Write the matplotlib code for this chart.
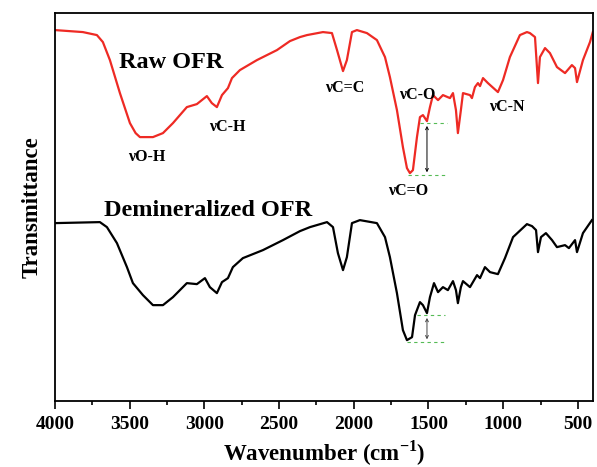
import matplotlib
matplotlib.use('Agg')
import matplotlib.pyplot as plt
from matplotlib.ticker import MultipleLocator

plt.rcParams['font.family'] = ['Liberation Serif', 'DejaVu Serif']
plt.rcParams['mathtext.fontset'] = 'custom'
plt.rcParams['mathtext.rm'] = 'Liberation Serif'
plt.rcParams['mathtext.bf'] = 'Liberation Serif:bold'

# Raw OFR spectrum (wavenumber, transmittance in arbitrary units)
raw_wn = [4000, 3813, 3719, 3679, 3632, 3565, 3498, 3460, 3431, 3344, 3277, 3210, 3117, 3050,
          2983, 2950, 2916, 2882, 2842, 2815, 2762, 2648, 2514, 2427, 2360, 2313, 2206,
          2146, 2112, 2072, 2046, 2012, 1979, 1912, 1845, 1791, 1758, 1711, 1671, 1644,
          1624, 1604, 1577, 1557, 1537, 1510, 1490, 1470, 1436, 1403, 1356, 1336, 1316,
          1303, 1283, 1269, 1222, 1209, 1189, 1169, 1155, 1135, 1102, 1035, 1001, 955,
          888, 841, 821, 787, 767, 754, 720, 687, 640, 586, 540, 519, 506, 466, 419, 400]
raw_t = [371, 369, 366, 359, 341, 308, 278, 268, 264, 264, 268, 278, 294, 297,
         305, 298, 294, 306, 313, 323, 331, 341, 351, 360, 364, 366, 369,
         368, 351, 330, 341, 369, 371, 368, 361, 344, 324, 291, 254, 233,
         228, 231, 264, 284, 286, 280, 294, 306, 301, 306, 303, 308, 291,
         268, 291, 308, 306, 303, 314, 318, 315, 323, 318, 309, 321, 344,
         366, 369, 368, 364, 318, 344, 353, 348, 334, 328, 336, 333, 319, 341, 359, 369]

# Demineralized OFR spectrum
dem_wn = [4000, 3699, 3652, 3585, 3518, 3478, 3411, 3344, 3277, 3210, 3117, 3050, 2996,
          2963, 2916, 2882, 2842, 2809, 2742, 2608, 2474, 2360, 2293, 2179, 2139, 2106,
          2072, 2046, 2012, 1959, 1845, 1791, 1758, 1711, 1671, 1644, 1610, 1590, 1557,
          1537, 1510, 1490, 1463, 1436, 1403, 1370, 1336, 1316, 1303, 1283, 1269, 1222,
          1175, 1155, 1122, 1088, 1035, 988, 934, 841, 807, 780, 767, 747, 714, 673,
          640, 586, 560, 519, 506, 466, 406]
dem_t = [178, 179, 174, 158, 134, 118, 106, 96, 96, 104, 118, 117, 123,
         114, 108, 119, 123, 134, 143, 151, 161, 170, 174, 179, 174, 148,
         131, 144, 178, 181, 178, 164, 144, 108, 71, 61, 64, 86, 99,
         96, 88, 104, 118, 109, 114, 111, 120, 111, 98, 114, 120, 114,
         126, 123, 134, 129, 127, 143, 164, 177, 175, 171, 149, 164, 168, 161,
         154, 156, 153, 161, 149, 168, 181]

# C=O band depth markers (upper level, lower level)
raw_levels = [278, 226]
dem_levels = [86, 59]

fig = plt.figure(figsize=(5.97, 4.67), dpi=100)
ax = fig.add_axes([0.092, 0.141, 0.901, 0.831])

ax.plot(raw_wn, raw_t, color='#ee2a24', lw=1.6)
ax.plot(dem_wn, dem_t, color='black', lw=1.6)

# dashed guide lines and arrows
green = '#55bb55'
ax.plot([1557, 1376], [raw_levels[0]] * 2, color=green, lw=0.8, dashes=(3, 3))
ax.plot([1637, 1376], [raw_levels[1]] * 2, color=green, lw=0.8, dashes=(3, 3))
ax.annotate('', xy=(1510, raw_levels[0]), xytext=(1510, raw_levels[1]),
            arrowprops=dict(arrowstyle='<->', color='black', lw=0.7, mutation_scale=5))
ax.plot([1577, 1390], [dem_levels[0]] * 2, color=green, lw=0.8, dashes=(3, 3))
ax.plot([1644, 1390], [dem_levels[1]] * 2, color=green, lw=0.8, dashes=(3, 3))
ax.annotate('', xy=(1510, dem_levels[0]), xytext=(1510, dem_levels[1]),
            arrowprops=dict(arrowstyle='<->', color='#444444', lw=0.7, mutation_scale=5))

# labels
ax.text(3224, 339, 'Raw OFR', fontsize=17.5, fontweight='bold', ha='center', va='center')
ax.text(2976, 191, 'Demineralized OFR', fontsize=17.5, fontweight='bold', ha='center', va='center')
lab = dict(fontsize=11.5, fontweight='bold', ha='center', va='center')
ax.text(3384, 244, 'νO-H', **lab)
ax.text(2849, 274, 'νC-H', **lab)
ax.text(2059, 313, 'νC=C', **lab)
ax.text(1577, 306, 'νC-O', **lab)
ax.text(1637, 210, 'νC=O', **lab)
ax.text(975, 294, 'νC-N', **lab)

ax.set_xlim(4000, 400)
ax.set_ylim(0, 388)
ax.xaxis.set_major_locator(MultipleLocator(500))
ax.xaxis.set_minor_locator(MultipleLocator(250))
ax.set_yticks([])
ax.tick_params(axis='x', which='major', direction='out', length=6, width=1.2, labelsize=14, pad=4.5)
ax.tick_params(axis='x', which='minor', direction='out', length=3, width=1.2)
for lbl in ax.get_xticklabels():
    lbl.set_fontweight('bold')
for sp in ax.spines.values():
    sp.set_linewidth(1.3)

ax.set_xlabel(r'Wavenumber (cm$^{\mathbf{-1}}$)', fontsize=16.5, fontweight='bold', labelpad=4)
ax.set_ylabel('Transmittance', fontsize=16.5, fontweight='bold', labelpad=9)

fig.savefig('out.png', dpi=100)
